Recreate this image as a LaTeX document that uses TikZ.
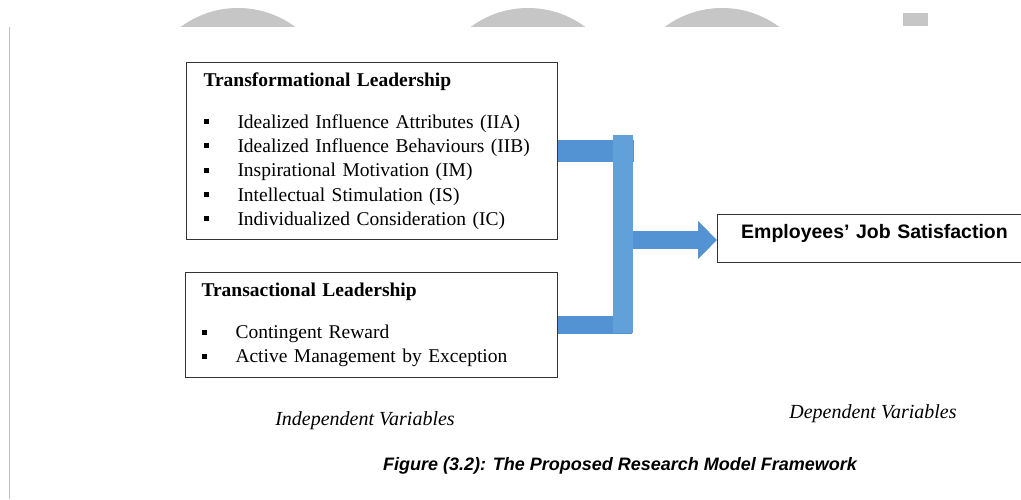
\documentclass[tikz,border=0pt]{standalone}
\usepackage{fontspec}
\setmainfont{Liberation Serif}
\setsansfont{Liberation Sans}
\usetikzlibrary{arrows.meta}
\definecolor{barblue}{HTML}{5393D3}
\definecolor{postblue}{HTML}{62A0DA}
\tikzstyle{lead box}=[
    draw = black!80,
    line width = 1pt,
    fill = white,
    align = left,
    inner xsep = 17pt,
    anchor = north west,
    font = \fontsize{19.5}{24.3}\selectfont
]
\newcommand{\blt}{\makebox[34pt][l]{\rule[4pt]{5pt}{5pt}}}

\begin{document}
\begin{tikzpicture}[x=1pt, y=-1pt,
    bar/.style = {draw=barblue, line width=18pt},
    note/.style = {font=\fontsize{20}{22}\selectfont\itshape}]
        \clip (0,0) rectangle (1021,499);

        % faded shapes along the top edge
        \begin{scope}
            \clip (0,0) rectangle (1021,26);
            \fill[gray!45] (238,104) circle (96);
            \fill[gray!45] (528,104) circle (96);
            \fill[gray!45] (722,104) circle (96);
            \fill[gray!45] (903,13) rectangle (928,26);
        \end{scope}
        \draw[gray!50, line width=1pt] (9,27) -- (9,499);

        \node[lead box, text width=337pt, minimum height=177pt] (trf) at (186,62) {%
            \textbf{Transformational Leadership}\\[17.7pt]
            \blt Idealized Influence Attributes (IIA)\\
            \blt Idealized Influence Behaviours (IIB)\\
            \blt Inspirational Motivation (IM)\\
            \blt Intellectual Stimulation (IS)\\
            \blt Individualized Consideration (IC)};
        \node[lead box, text width=340pt, minimum height=105pt, inner xsep=16pt] (trs) at (185,272) {%
            \textbf{Transactional Leadership}\\[17.7pt]
            \blt Contingent Reward\\
            \blt Active Management by Exception};
        \node[lead box, align=center, text width=280pt, minimum height=48pt,
              text depth=14pt, font=\sffamily\bfseries\fontsize{19.5}{22}\selectfont] (sat) at (717,214)
              {Employees’ Job Satisfaction};

        \coordinate (jtop) at (623,135);
        \coordinate (jbot) at (623,333);
        \coordinate (jmid) at (623,240);

        \draw[bar, line width=22pt] (trf.east) -- ++(76,0);
        \draw[bar] (trs.east) -- ++(74,0);
        \draw[bar, draw=postblue, line width=20pt] (jtop) -- (jbot);
        \draw[bar, -{Triangle[length=19pt, width=37pt]}] ([xshift=10pt]jmid) -- (sat.west |- jmid);

        \node[note] (indep) at (365,421) {Independent Variables};
        \node[note] (dep) at (873,414) {Dependent Variables};
        \node[font=\sffamily\bfseries\itshape\fontsize{18}{20}\selectfont] (cap) at (620,466)
            {Figure (3.2): The Proposed Research Model Framework};

    \end{tikzpicture}
\end{document}
